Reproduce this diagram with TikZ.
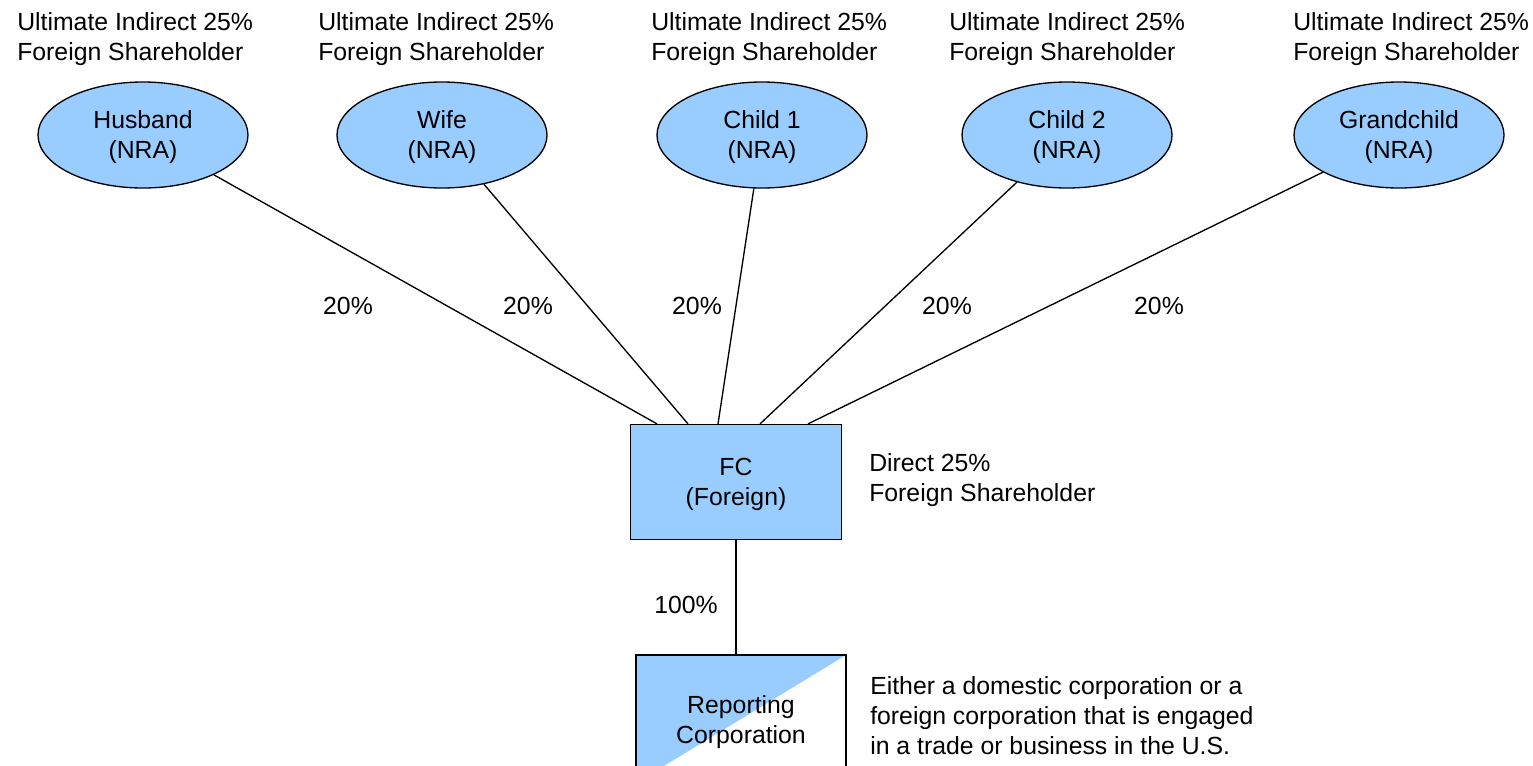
\documentclass[tikz,border=0pt]{standalone}
\usepackage{fontspec}
\setmainfont{Liberation Sans}
\usetikzlibrary{calc,shapes.geometric}
\definecolor{shareblue}{HTML}{99CCFF}
\begin{document}
\begin{tikzpicture}[x=0.75pt,y=-0.75pt,
  every node/.style={font=\fontsize{18.6pt}{22.5pt}\selectfont,align=center,text depth=0pt},
  person/.style={draw,ellipse,fill=shareblue,line width=1pt,inner sep=0pt,minimum width=157.5pt,minimum height=79.5pt},
  entity/.style={draw,rectangle,fill=shareblue,line width=1.2pt,inner sep=0pt,minimum width=158pt,minimum height=86pt},
  note/.style={align=left,anchor=west,inner sep=0pt},
  pct/.style={inner sep=0pt},
  link/.style={line width=1pt}]
\useasboundingbox (0,0) rectangle (1533,765);
\clip (0,0) rectangle (1533,765);
% shareholders
\node[person] (hus) at (143,135) {Husband\\ (NRA)};
\node[person] (wif) at (442,135) {Wife\\ (NRA)};
\node[person] (ch1) at (762,135) {Child 1\\ (NRA)};
\node[person] (ch2) at (1067,135) {Child 2\\ (NRA)};
\node[person] (gch) at (1399,135) {Grandchild\\ (NRA)};
\node[note] (uhus) at (17,37) {Ultimate Indirect 25\%\\ Foreign Shareholder};
\node[note] (uwif) at (318,37) {Ultimate Indirect 25\%\\ Foreign Shareholder};
\node[note] (uch1) at (651,37) {Ultimate Indirect 25\%\\ Foreign Shareholder};
\node[note] (uch2) at (949,37) {Ultimate Indirect 25\%\\ Foreign Shareholder};
\node[note] (ugch) at (1293,37) {Ultimate Indirect 25\%\\ Foreign Shareholder};
% companies
\node[entity] (fc) at (736,482) {FC\\ (Foreign)};
\node[note] (dfc) at (869,478) {Direct 25\%\\ Foreign Shareholder};
\node[draw,rectangle,line width=1.2pt,inner sep=0pt,minimum width=157.5pt,minimum height=96pt,
  path picture={\fill[shareblue] (path picture bounding box.north east) -- (path picture bounding box.north west) -- (path picture bounding box.south west) -- cycle;}]
  (rc) at (741,719) {Reporting\\ Corporation};
\node[note] (drc) at (870,715) {Either a domestic corporation or a\\ foreign corporation that is engaged\\ in a trade or business in the U.S.};
% ownership lines
\coordinate (in1) at ($(fc.north)+(-79,0)$);
\coordinate (in2) at ($(fc.north)+(-48,0)$);
\coordinate (in3) at ($(fc.north)+(-18,0)$);
\coordinate (in4) at ($(fc.north)+(24,0)$);
\coordinate (in5) at ($(fc.north)+(72,0)$);
\draw[link] (hus) -- (in1);
\draw[link] (wif) -- (in2);
\draw[link] (ch1) -- (in3);
\draw[link] (ch2) -- (in4);
\draw[link] (gch) -- (in5);
\draw[link] (fc.south) -- (fc.south |- rc.north);
\node[pct] (p1) at (348,306) {20\%};
\node[pct] (p2) at (528,306) {20\%};
\node[pct] (p3) at (697,306) {20\%};
\node[pct] (p4) at (947,306) {20\%};
\node[pct] (p5) at (1159,306) {20\%};
\node[pct] (p6) at (686,605) {100\%};
\end{tikzpicture}
\end{document}
